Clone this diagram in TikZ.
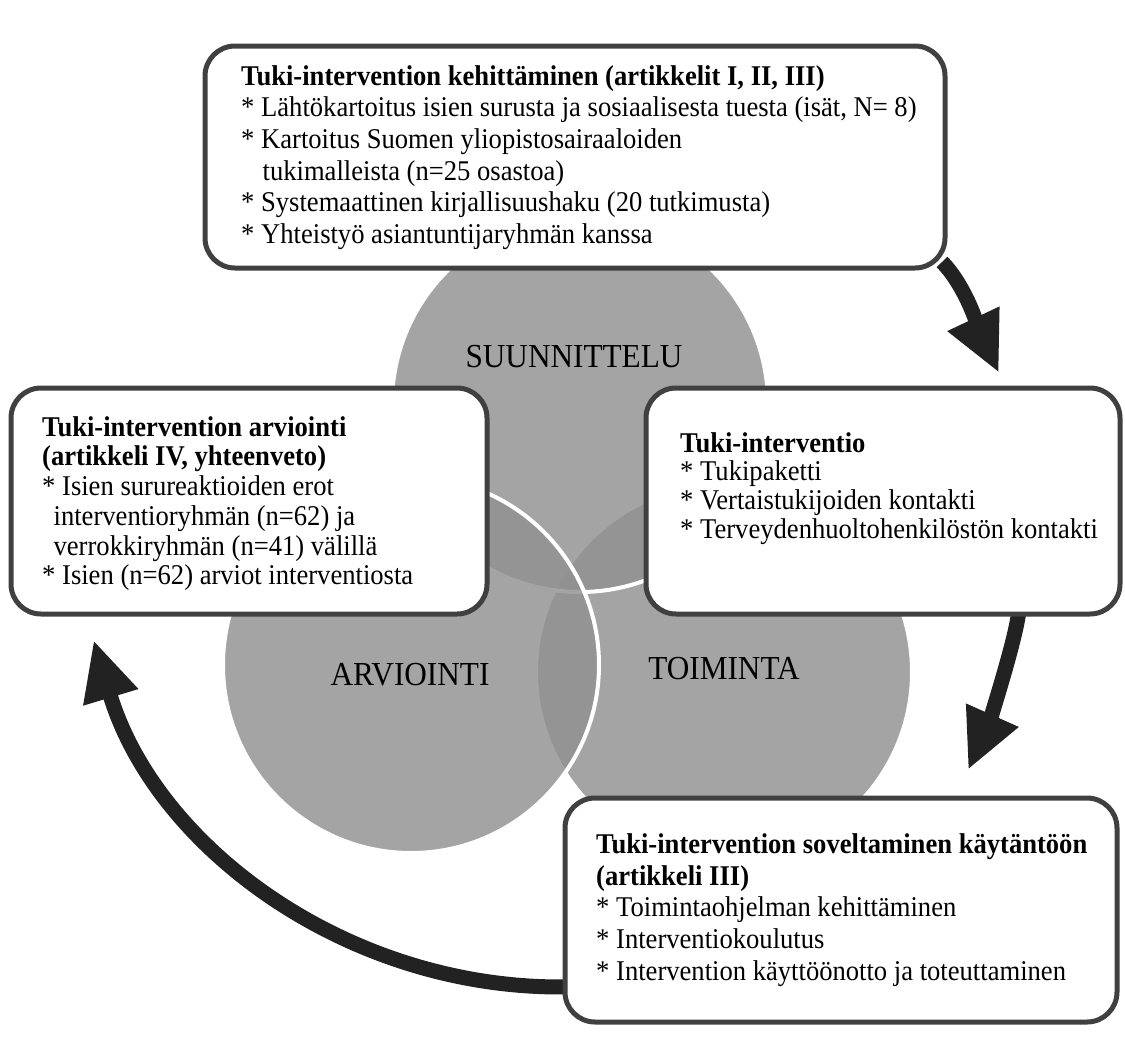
\documentclass[tikz,border=0pt]{standalone}
\usepackage{fontspec}
\setmainfont{Liberation Serif}[FakeStretch=0.93]
\usetikzlibrary{arrows.meta,fit}
\definecolor{circfill}{RGB}{145,145,145}
\definecolor{boxline}{RGB}{64,64,64}
\definecolor{arrowc}{RGB}{34,34,34}
\begin{document}
\begin{tikzpicture}[x=1pt,y=-1pt,
  venn/.style={circle, minimum size=376pt, inner sep=0pt, fill=circfill, fill opacity=0.82, draw=white, line width=4pt},
  vlabel/.style={inner sep=0pt, font=\fontsize{33.6}{38}\selectfont},
  tbox/.style={draw=boxline, line width=5pt, fill=white, rounded corners=30pt, inner sep=0pt},
  btext/.style={align=left, inner sep=0pt, anchor=north west},
  bigarrow/.style={draw=arrowc, line width=15pt, -{Triangle[width=53pt,length=60pt]}}]
\useasboundingbox (0,0) rectangle (1125,1055);
\fill[white] (0,0) rectangle (1125,1055);
% Venn circles
\node[venn] (cact) at (724,672) {};
\node[venn] (cplan) at (580,404) {};
\node[venn] (ceval) at (411,665) {};
\node[vlabel, anchor=base] (lplan) at (574,367) {SUUNNITTELU};
\node[vlabel, anchor=base] (leval) at (410,685) {ARVIOINTI};
\node[vlabel, anchor=base] (lact) at (724,679) {TOIMINTA};
% arrow end points
\coordinate (a1s) at (942,262);
\coordinate (a1e) at (999,373);
\coordinate (a2s) at (1019,610);
\coordinate (a2e) at (968,770);
\coordinate (a3s) at (568.5,986.9);
% arrows
\draw[bigarrow] (a1s) .. controls (967,287) and (982,337) .. (a1e);
\draw[bigarrow] (a2s) .. controls (1016,640) and (988,725) .. (a2e);
\draw[bigarrow] (a3s) arc[start angle=89, end angle=163.3, radius=487];
% boxes
\node[tbox, fit={(205,46) (945,268)}] (bdev) {};
\node[tbox, fit={(11,388) (487,614)}] (beval) {};
\node[tbox, fit={(646,388) (1120,614)}] (bint) {};
\node[tbox, fit={(565,798) (1117,1022)}] (bapp) {};
% texts
\node[btext, font=\fontsize{28.6}{31.6}\selectfont] (tdev) at (241,64) {%
\rule{0pt}{21pt}\textbf{Tuki-intervention kehittäminen (artikkelit I, II, III)}\\
* Lähtökartoitus isien surusta ja sosiaalisesta tuesta (isät, N= 8)\\
* Kartoitus Suomen yliopistosairaaloiden\\
\hspace*{0.75em}tukimalleista (n=25 osastoa)\\
* Systemaattinen kirjallisuushaku (20 tutkimusta)\\
* Yhteistyö asiantuntijaryhmän kanssa};
\node[btext, font=\fontsize{28.6}{29.7}\selectfont] (teval) at (42,415) {%
\rule{0pt}{21pt}\textbf{Tuki-intervention arviointi}\\
\textbf{(artikkeli IV, yhteenveto)}\\
* Isien surureaktioiden erot\\
\hspace*{0.4em}interventioryhmän (n=62) ja\\
\hspace*{0.4em}verrokkiryhmän (n=41) välillä\\
* Isien (n=62) arviot interventiosta};
\node[btext, font=\fontsize{28.6}{28.6}\selectfont] (tint) at (680,431) {%
\rule{0pt}{21pt}\textbf{Tuki-interventio}\\
* Tukipaketti\\
* Vertaistukijoiden kontakti\\
* Terveydenhuoltohenkilöstön kontakti};
\node[btext, font=\fontsize{28.6}{31.8}\selectfont] (tapp) at (596,832) {%
\rule{0pt}{21pt}\textbf{Tuki-intervention soveltaminen käytäntöön}\\
\textbf{(artikkeli III)}\\
* Toimintaohjelman kehittäminen\\
* Interventiokoulutus\\
* Intervention käyttöönotto ja toteuttaminen};
\end{tikzpicture}
\end{document}
